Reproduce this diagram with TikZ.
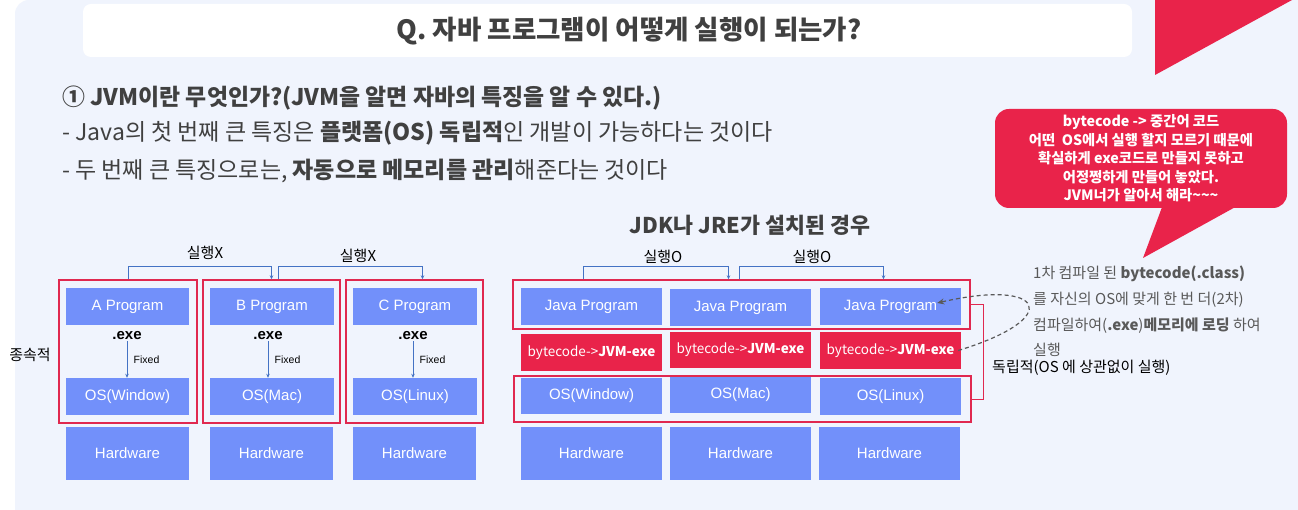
\documentclass[tikz,border=0pt]{standalone}
\usepackage{fontspec}
\setmainfont{Noto Sans CJK KR}
\newfontfamily\arialf{Liberation Sans}
\usepackage{xcolor}
\usetikzlibrary{arrows.meta}
\definecolor{bgBlue}{HTML}{F0F4FD}
\definecolor{boxBlue}{HTML}{7290FA}
\definecolor{jvmRed}{HTML}{E9234A}
\definecolor{frameRed}{HTML}{E0284F}
\definecolor{linkBlue}{HTML}{4472C4}
\definecolor{textGray}{HTML}{404040}
\definecolor{noteGray}{HTML}{595959}
\newcommand{\fsz}[2]{\fontsize{#1}{#2}\selectfont}

\begin{document}
\begin{tikzpicture}[x=1pt, y=-1pt,
    bluebox/.style={fill=boxBlue, text=white, inner sep=0pt, font=\arialf\fsz{15}{18}},
    jvmbox/.style={fill=jvmRed, text=white, inner sep=0pt, font=\fsz{13.5}{16}},
    osframe/.style={draw=frameRed, line width=1.4pt, inner sep=0pt},
    runlink/.style={draw=linkBlue, line width=0.8pt, -{Stealth[length=4pt, width=3.5pt]}},
    fixlink/.style={draw=linkBlue, line width=0.8pt, -{Stealth[length=4pt, width=3.5pt]}},
    runlabel/.style={font=\fsz{15}{18}, text=black, inner sep=1pt}]
    \useasboundingbox (0,0) rectangle (1298,510);
    % background
    \fill[white] (0,0) rectangle (1298,510);
    \fill[bgBlue] (1298,510) -- (15,510) [rounded corners=14pt] -- (15,0) [sharp corners] -- (1298,0) -- cycle;
    \fill[jvmRed] (1155,0) -- (1292,0) -- (1155,75) -- cycle;
    % title
    \node[fill=white, rounded corners=8pt, minimum width=1049pt, minimum height=53pt] (titlebox) at (607.5,30.5) {};
    \node[font=\bfseries\fsz{26.5}{30}, text=textGray] (title) at (629,31) {Q. 자바 프로그램이 어떻게 실행이 되는가?};
    % intro lines
    \node[anchor=west, inner sep=0pt, font=\bfseries\fsz{22.9}{27}, text=textGray] (head) at (62,98) {① JVM이란 무엇인가?(JVM을 알면 자바의 특징을 알 수 있다.)};
    \node[anchor=west, inner sep=0pt, font=\fsz{23}{27}, text=textGray] (line1) at (62,133) {- Java의 첫 번째 큰 특징은 \textbf{플랫폼(OS) 독립적}인 개발이 가능하다는 것이다};
    \node[anchor=west, inner sep=0pt, font=\fsz{23}{27}, text=textGray] (line2) at (62,171) {- 두 번째 큰 특징으로는, \textbf{자동으로 메모리를 관리}해준다는 것이다};

    % left side: compiled per OS
    \node[osframe, minimum width=138pt, minimum height=143pt] (fa) at (128,351.5) {};
    \node[osframe, minimum width=137pt, minimum height=143pt] (fb) at (271.5,351.5) {};
    \node[osframe, minimum width=137pt, minimum height=143pt] (fc) at (414.5,351.5) {};
    \node[bluebox, minimum width=123pt, minimum height=37pt] (pa) at (127.5,306.5) {A Program};
    \node[bluebox, minimum width=124pt, minimum height=37pt] (pb) at (272,306.5) {B Program};
    \node[bluebox, minimum width=124pt, minimum height=37pt] (pc) at (415,306.5) {C Program};
    \node[font=\arialf\bfseries\fsz{15}{18}, inner sep=1pt] (ea) at (127,336) {.exe};
    \node[font=\arialf\bfseries\fsz{15}{18}, inner sep=1pt] (eb) at (268,336) {.exe};
    \node[font=\arialf\bfseries\fsz{15}{18}, inner sep=1pt] (ec) at (413,336) {.exe};
    \node[bluebox, minimum width=123pt, minimum height=37pt] (oa) at (127.5,396.5) {OS(Window)};
    \node[bluebox, minimum width=124pt, minimum height=37pt] (ob) at (272,396.5) {OS(Mac)};
    \node[bluebox, minimum width=124pt, minimum height=37pt] (oc) at (415,396.5) {OS(Linux)};
    \node[bluebox, minimum width=123pt, minimum height=53pt] (ha) at (127.5,453.5) {Hardware};
    \node[bluebox, minimum width=123pt, minimum height=53pt] (hb) at (271.5,453.5) {Hardware};
    \node[bluebox, minimum width=123pt, minimum height=53pt] (hc) at (414.5,453.5) {Hardware};
    \draw[fixlink] (ea.south) -- (ea.south |- oa.north) node[midway, right, xshift=3pt, font=\arialf\fsz{10.5}{12}] {Fixed};
    \draw[fixlink] (eb.south) -- (eb.south |- ob.north) node[midway, right, xshift=3pt, font=\arialf\fsz{10.5}{12}] {Fixed};
    \draw[fixlink] (ec.south) -- (ec.south |- oc.north) node[midway, right, xshift=3pt, font=\arialf\fsz{10.5}{12}] {Fixed};
    \node[runlabel] (dep) at (30,355) {종속적};
    \draw[runlink] (fa.north) -- ++(0,-13) -| (fb.north);
    \draw[runlink] ([xshift=7pt]fb.north) -- ++(0,-13) -| ([xshift=8pt]fc.north);
    \node[runlabel] (nx1) at (205,253) {실행X};
    \node[runlabel] (nx2) at (358,256) {실행X};

    % right side: with JDK / JRE
    \node[font=\bfseries\fsz{21.7}{25}, text=textGray, inner sep=0pt] (jdk) at (750,225) {JDK나 JRE가 설치된 경우};
    \node[osframe, minimum width=457pt, minimum height=49pt] (jf) at (741.5,304.5) {};
    \node[osframe, minimum width=457pt, minimum height=46pt] (of) at (742.5,399) {};
    \node[bluebox, minimum width=141pt, minimum height=37pt] (jp1) at (591.5,306.5) {Java Program};
    \node[bluebox, minimum width=141pt, minimum height=37pt] (jp2) at (740.5,307.5) {Java Program};
    \node[bluebox, minimum width=141pt, minimum height=37pt] (jp3) at (890.5,306.5) {Java Program};
    \node[jvmbox, minimum width=141pt, minimum height=37pt] (bc1) at (591.5,352.5) {bytecode->\textbf{JVM-exe}};
    \node[jvmbox, minimum width=141pt, minimum height=36pt] (bc2) at (740.5,350) {bytecode->\textbf{JVM-exe}};
    \node[jvmbox, minimum width=141pt, minimum height=37pt] (bc3) at (890.5,350.5) {bytecode->\textbf{JVM-exe}};
    \node[bluebox, minimum width=141pt, minimum height=36pt] (os1) at (591.5,396) {OS(Window)};
    \node[bluebox, minimum width=141pt, minimum height=36pt] (os2) at (740.5,395) {OS(Mac)};
    \node[bluebox, minimum width=141pt, minimum height=37pt] (os3) at (890.5,396.5) {OS(Linux)};
    \node[bluebox, minimum width=141pt, minimum height=53pt] (hw1) at (591.5,453.5) {Hardware};
    \node[bluebox, minimum width=141pt, minimum height=53pt] (hw2) at (740.5,453.5) {Hardware};
    \node[bluebox, minimum width=141pt, minimum height=53pt] (hw3) at (889.5,453.5) {Hardware};
    \draw[runlink] ([xshift=-8pt]jp1.north |- jf.north) -- ++(0,-13) -| ([xshift=-12pt]jp2.north |- jf.north);
    \draw[runlink] ([xshift=-1pt]jp2.north |- jf.north) -- ++(0,-13) -| ([xshift=-7pt]jp3.north |- jf.north);
    \node[runlabel] (no1) at (663,257) {실행O};
    \node[runlabel] (no2) at (812,257) {실행O};
    \draw[frameRed, line width=1pt] (jf.east) -- ++(13,0) |- (of.east);
    \node[anchor=west, inner sep=0pt, font=\fsz{15}{18}, text=black] (indep) at (992,368) {독립적(OS 에 상관없이 실행)};

    % note and speech bubble
    \node[anchor=west, align=left, inner sep=0pt, font=\fsz{15}{25.7}, text=noteGray] (note) at (1033,311.5)
        {1차 컴파일 된 \textbf{bytecode(.class)}\\를 자신의 OS에 맞게 한 번 더(2차)\\컴파일하여(\textbf{.exe})\textbf{메모리에 로딩} 하여\\실행};
    \draw[noteGray, line width=1.2pt, dash pattern=on 4pt off 3pt, -{Stealth[length=7pt, width=6pt]}]
        ([xshift=-3pt]bc3.east) .. controls (1065,318) and (1045,278) .. ([xshift=-24pt, yshift=3.5pt]jp3.east);
    \node[fill=jvmRed, rounded corners=14pt, minimum width=292pt, minimum height=99pt, align=center,
        text=white, font=\bfseries\fsz{14.3}{18.5}] (bubble) at (1141,158.5)
        {bytecode -> 중간어 코드\\어떤\ \ OS에서 실행 할지 모르기 때문에\\확실하게 exe코드로 만들지 못하고\\어정쩡하게 만들어 놓았다.\\JVM너가 알아서 해라\textasciitilde\textasciitilde\textasciitilde};
    \coordinate (tip) at (1143,258);
    \fill[jvmRed] ([xshift=21pt, yshift=1pt]bubble.south) -- (tip) -- ([xshift=94pt, yshift=1pt]bubble.south) -- cycle;
\end{tikzpicture}
\end{document}
